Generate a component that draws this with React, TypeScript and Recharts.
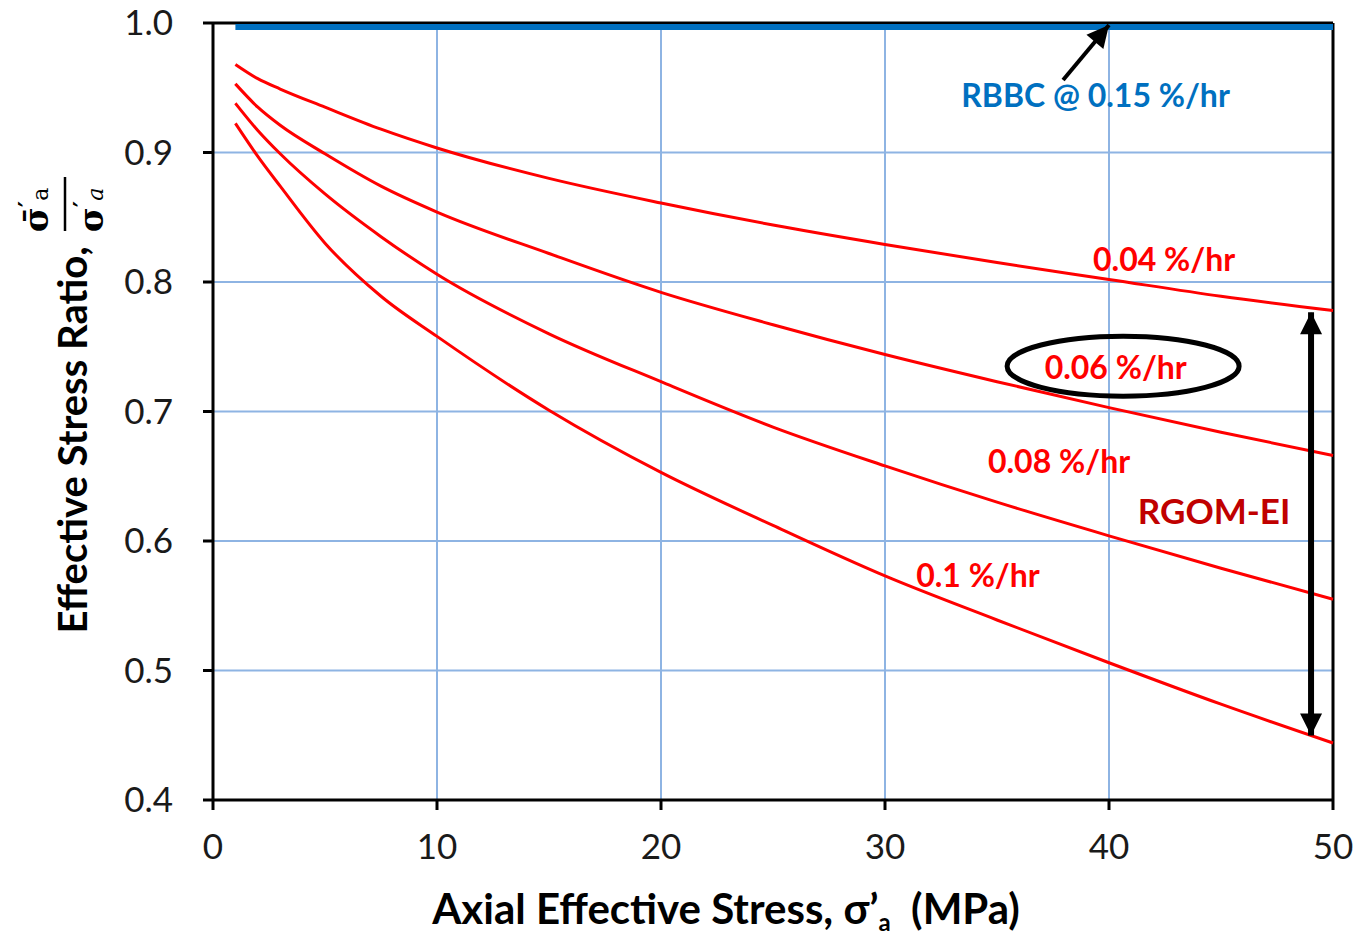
import { CartesianGrid, Line, LineChart, ReferenceDot, ReferenceLine, XAxis, YAxis } from 'recharts'

// axial effective stress (MPa)
const stress = [1, 2, 3, 5, 7.5, 10, 15, 20, 25, 30, 35, 40, 45, 50]

// effective stress ratio for each strain rate
const rate004 = [0.968, 0.957, 0.949, 0.935, 0.918, 0.9035, 0.88, 0.861, 0.844, 0.829, 0.815, 0.802, 0.789, 0.778]
const rate006 = [0.953, 0.935, 0.921, 0.899, 0.874, 0.854, 0.822, 0.792, 0.767, 0.744, 0.723, 0.703, 0.684, 0.666]
const rate008 = [0.938, 0.917, 0.899, 0.868, 0.835, 0.806, 0.76, 0.723, 0.688, 0.658, 0.63, 0.604, 0.579, 0.555]
const rate010 = [0.9225, 0.897, 0.874, 0.83, 0.789, 0.758, 0.701, 0.653, 0.612, 0.573, 0.539, 0.506, 0.474, 0.444]
const rbbc = [0.997, 0.997, 0.997, 0.997, 0.997, 0.997, 0.997, 0.997, 0.997, 0.997, 0.997, 0.997, 0.997, 0.997]

const xTicks = [0, 10, 20, 30, 40, 50]
const yTicks = [0.4, 0.5, 0.6, 0.7, 0.8, 0.9, 1.0]

const data = stress.map((x, i) => ({
  x,
  r004: rate004[i],
  r006: rate006[i],
  r008: rate008[i],
  r010: rate010[i],
  rbbc: rbbc[i],
}))

const FONT = 'Lato, "Open Sans", sans-serif'
const SERIF = '"DejaVu Serif", "Liberation Serif", serif'
const RED = '#ff0000'
const BLUE = '#0070c0'

function TextShape(props: any) {
  const { cx, cy, text, fill, size } = props
  return (
    <text x={cx} y={cy} dy="0.35em" textAnchor="middle" fontFamily={FONT} fontWeight={700} fontSize={size} fill={fill}>
      {text}
    </text>
  )
}

function EllipseShape(props: any) {
  const { cx, cy } = props
  return <ellipse cx={cx} cy={cy} rx={116} ry={30} fill="none" stroke="#000" strokeWidth={5} />
}

function ArrowShape(props: any) {
  const { x1, y1, x2, y2, both } = props
  const head = (xa: number, ya: number, xb: number, yb: number) => {
    const ang = Math.atan2(yb - ya, xb - xa)
    const L = 22
    const W = 11
    const bx = xb - L * Math.cos(ang)
    const by = yb - L * Math.sin(ang)
    const px = -Math.sin(ang) * W
    const py = Math.cos(ang) * W
    return `${xb},${yb} ${bx + px},${by + py} ${bx - px},${by - py}`
  }
  return (
    <g>
      <line x1={x1} y1={y1} x2={x2} y2={y2} stroke="#000" strokeWidth={both ? 6 : 4} />
      <polygon points={head(x1, y1, x2, y2)} fill="#000" />
      {both && <polygon points={head(x2, y2, x1, y1)} fill="#000" />}
    </g>
  )
}

function XTitle(props: any) {
  const { viewBox } = props
  const cx = viewBox.x + viewBox.width / 2 - 47
  return (
    <text x={cx} y={viewBox.y + 124} textAnchor="middle" fontFamily={FONT} fontWeight={700} fontSize={42} fill="#000">
      Axial Effective Stress, σ’
      <tspan fontSize={24} dy={7}>a</tspan>
      <tspan dy={-7}>{'\u00a0\u00a0'}(MPa)</tspan>
    </text>
  )
}

function YTitle() {
  return (
    <g>
      <text
        transform="translate(87, 440) rotate(-90)"
        textAnchor="middle"
        fontFamily={FONT}
        fontWeight={700}
        fontSize={40}
        fill="#000"
      >
        Effective Stress Ratio,
      </text>
      <g transform="translate(65, 204) rotate(-90)">
        <line x1={-27} y1={0} x2={27} y2={0} stroke="#000" strokeWidth={2.5} />
        <text x={-6} y={-17} textAnchor="middle" fontFamily={SERIF} fontWeight={700} fontSize={34} fill="#000">
          σ̄
          <tspan fontSize={24} dy={-12}>′</tspan>
          <tspan fontSize={22} fontWeight={400} dy={12}>a</tspan>
        </text>
        <text x={-6} y={38} textAnchor="middle" fontFamily={SERIF} fontWeight={700} fontSize={34} fill="#000">
          σ
          <tspan fontSize={24} dy={-12}>′</tspan>
          <tspan fontSize={22} fontWeight={400} fontStyle="italic" dy={12}>a</tspan>
        </text>
      </g>
    </g>
  )
}

export default function App() {
  return (
    <div style={{ position: 'absolute', left: 0, top: 0, background: '#fff' }}>
      <LineChart width={1358} height={940} data={data} margin={{ top: 23, right: 25, bottom: 80, left: 0 }}>
        <CartesianGrid stroke="#8eb4e3" strokeWidth={2} />
        <XAxis
          dataKey="x"
          type="number"
          domain={[0, 50]}
          ticks={xTicks}
          height={60}
          stroke="#000"
          strokeWidth={3}
          tickSize={10}
          tickMargin={24}
          tick={{ fill: '#1a1a1a', fontSize: 35, fontFamily: FONT }}
          label={<XTitle />}
        />
        <YAxis
          type="number"
          domain={[0.4, 1.0]}
          ticks={yTicks}
          width={213}
          stroke="#000"
          strokeWidth={3}
          tickSize={10}
          tickMargin={30}
          tickFormatter={(v) => v.toFixed(1)}
          tick={{ fill: '#1a1a1a', fontSize: 35, fontFamily: FONT }}
          label={<YTitle />}
        />
        <ReferenceLine y={1.0} stroke="#000" strokeWidth={3} />
        <ReferenceLine x={50} stroke="#000" strokeWidth={3} />

        <Line dataKey="r004" type="monotone" stroke={RED} strokeWidth={3} dot={false} isAnimationActive={false} />
        <Line dataKey="r006" type="monotone" stroke={RED} strokeWidth={3} dot={false} isAnimationActive={false} />
        <Line dataKey="r008" type="monotone" stroke={RED} strokeWidth={3} dot={false} isAnimationActive={false} />
        <Line dataKey="r010" type="monotone" stroke={RED} strokeWidth={3} dot={false} isAnimationActive={false} />
        <Line dataKey="rbbc" type="linear" stroke={BLUE} strokeWidth={6} dot={false} isAnimationActive={false} />

        <ReferenceLine segment={[{ x: 37.95, y: 0.956 }, { x: 40, y: 0.9985 }]} shape={(p: any) => <ArrowShape {...p} />} />
        <ReferenceLine
          segment={[{ x: 49.02, y: 0.7767 }, { x: 49.02, y: 0.4498 }]}
          shape={(p: any) => <ArrowShape {...p} both />}
        />
        <ReferenceDot x={40.63} y={0.735} r={0} shape={(p: any) => <EllipseShape {...p} />} />

        <ReferenceDot x={39.4} y={0.9436} r={0} shape={(p: any) => <TextShape {...p} text="RBBC @ 0.15 %/hr" fill={BLUE} size={32} />} />
        <ReferenceDot x={42.46} y={0.8168} r={0} shape={(p: any) => <TextShape {...p} text="0.04 %/hr" fill={RED} size={32} />} />
        <ReferenceDot x={40.3} y={0.734} r={0} shape={(p: any) => <TextShape {...p} text="0.06 %/hr" fill={RED} size={32} />} />
        <ReferenceDot x={37.77} y={0.661} r={0} shape={(p: any) => <TextShape {...p} text="0.08 %/hr" fill={RED} size={32} />} />
        <ReferenceDot x={44.69} y={0.6229} r={0} shape={(p: any) => <TextShape {...p} text="RGOM-EI" fill="#c00000" size={35} />} />
        <ReferenceDot x={34.15} y={0.5734} r={0} shape={(p: any) => <TextShape {...p} text="0.1 %/hr" fill={RED} size={32} />} />
      </LineChart>
    </div>
  )
}
